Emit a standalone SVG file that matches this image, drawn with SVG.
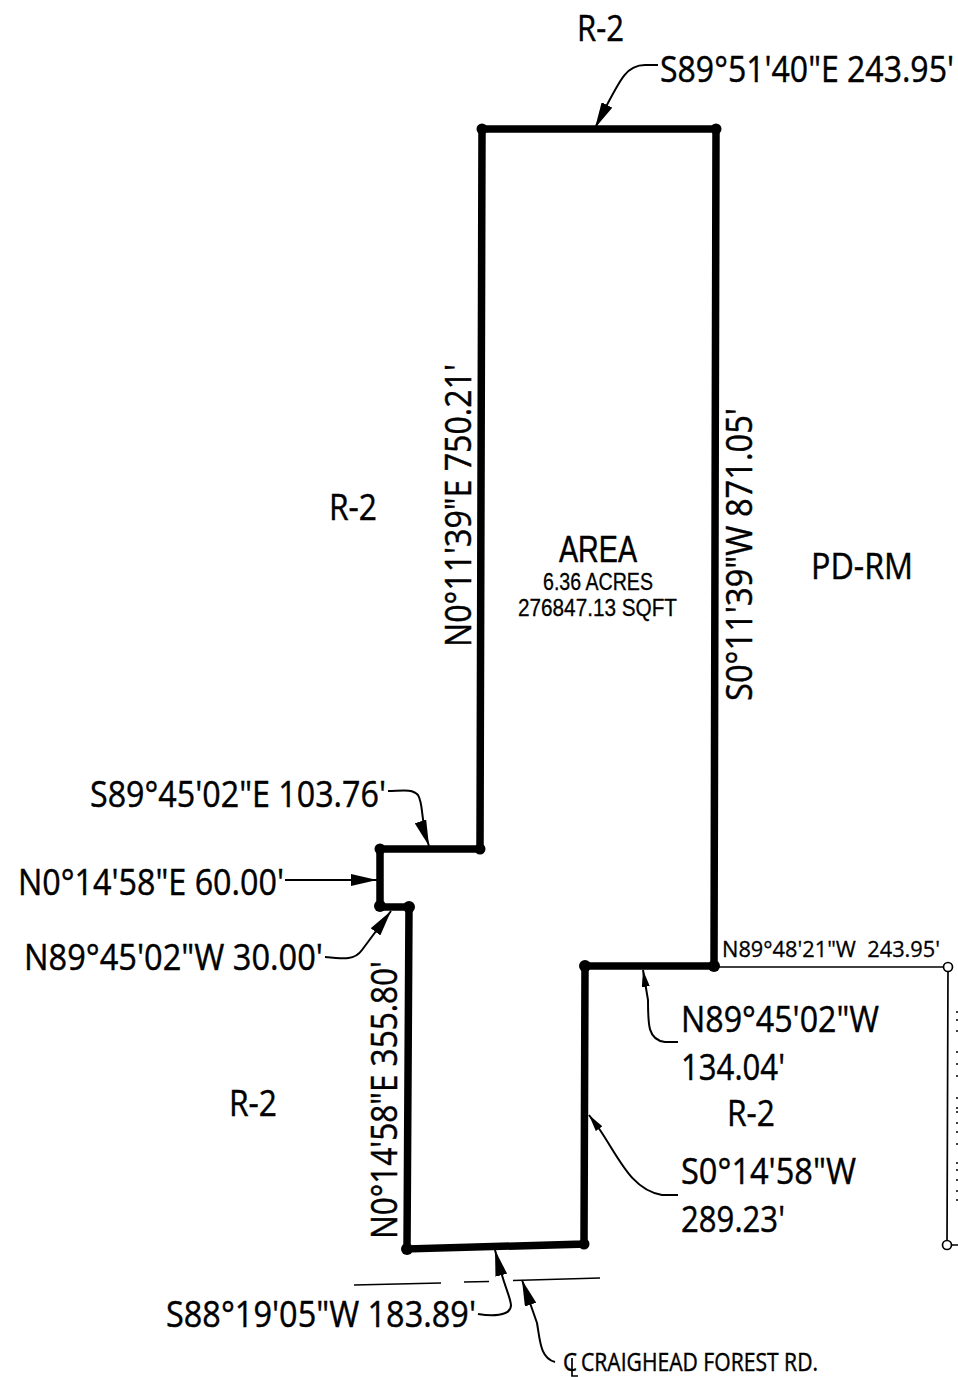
<svg xmlns="http://www.w3.org/2000/svg" width="958" height="1377" viewBox="0 0 958 1377">
<style>
text{font-family:"Open Sans","Noto Sans",sans-serif;fill:#000;stroke:#000;stroke-width:.45}
.b{font-size:37px}.s{font-size:22px;stroke-width:.3}.xs{font-size:23px;stroke-width:.3}
.ar{font-family:"Liberation Sans",Arial,sans-serif}
.bd{fill:none;stroke:#000;stroke-width:7.500}
.ld{fill:none;stroke:#000;stroke-width:2}
.th{fill:none;stroke:#000;stroke-width:1.700}
</style>
<defs>
<marker id="a" markerUnits="userSpaceOnUse" markerWidth="26" markerHeight="12" refX="26" refY="6" orient="auto"><path d="M0 0L26 6L0 12Z"/></marker>
<marker id="sm" markerUnits="userSpaceOnUse" markerWidth="17" markerHeight="8" refX="17" refY="4" orient="auto"><path d="M0 0L17 4L0 8Z"/></marker>
</defs>
<rect width="958" height="1377" fill="#fff"/>
<g id="boundary">
<path class="bd" d="M482 129H716L714 966H585L584 1244L407 1249L409 907H380V849H480Z"/>
<g><circle cx="482" cy="129" r="5.500"/><circle cx="716" cy="129" r="5.500"/><circle cx="714" cy="966" r="6"/><circle cx="585" cy="966" r="6"/><circle cx="584" cy="1244" r="5.500"/><circle cx="407" cy="1249" r="6"/><circle cx="409" cy="907" r="6"/><circle cx="380" cy="906" r="6"/><circle cx="380" cy="849" r="5.500"/><circle cx="480" cy="849" r="5.500"/></g>
</g>
<g id="adjacent">
<path class="th" d="M714 967H948L947 1245H958"/>
<circle cx="948" cy="967" r="4.500" fill="#fff" stroke="#000" stroke-width="1.700"/>
<circle cx="947" cy="1245" r="4.500" fill="#fff" stroke="#000" stroke-width="1.700"/>
<path class="th" d="M354 1285L441 1283M464 1282L489 1281.500M513 1280.500L600 1278"/>
<path d="M956 1012h2M956 1020h2M956 1031h2M956 1052h2M956 1064h2M956 1076h2M956 1098h2M956 1108h2M956 1112h2M956 1123h2M956 1132h2M956 1144h2M956 1163h2M956 1170h2M956 1180h2M956 1191h2M956 1200h2" stroke="#000" stroke-width="1.500"/>
</g>
<g id="connectors">
<path class="ld" marker-end="url(#a)" d="M658 65H645C625 65 620 80 595 128"/>
<path class="ld" marker-end="url(#a)" d="M388 791C400 791 412 788 418 795C424 805 420 820 429 846"/>
<path class="ld" marker-end="url(#a)" d="M285 880H377"/>
<path class="ld" marker-end="url(#a)" d="M325 957C345 959 355 960 362 950L391 911"/>
<path class="ld" marker-end="url(#sm)" d="M678 1042H665C648 1040 648 1025 648 1000L643 970"/>
<path class="ld" marker-end="url(#sm)" d="M678 1195H662C632 1190 620 1160 600 1130L589 1115"/>
<path class="ld" marker-end="url(#a)" d="M478 1314C490 1316 511 1317 511 1305C510 1295 505 1290 495 1250"/>
<path class="ld" stroke-width="2.500" marker-end="url(#a)" d="M555 1362C540 1358 540 1340 537 1323L522 1280"/>
</g>
<g id="labels">
<text class="b" x="577" y="41" textLength="47" lengthAdjust="spacingAndGlyphs">R-2</text>
<text class="b" transform="translate(660 82) scale(.84 1)" textLength="350" lengthAdjust="spacingAndGlyphs">S89°51'40"E 243.95'</text>
<text class="b" x="329" y="520" textLength="48" lengthAdjust="spacingAndGlyphs">R-2</text>
<text class="b" x="811" y="579" textLength="102" lengthAdjust="spacingAndGlyphs">PD-RM</text>
<text class="b ar" x="559" y="562" textLength="78" lengthAdjust="spacingAndGlyphs">AREA</text>
<text class="xs ar" x="543" y="590" textLength="110" lengthAdjust="spacingAndGlyphs">6.36 ACRES</text>
<text class="xs ar" x="518" y="616" textLength="159" lengthAdjust="spacingAndGlyphs">276847.13 SQFT</text>
<text class="b" transform="translate(471 647) rotate(-90)" textLength="283" lengthAdjust="spacingAndGlyphs">N0°11'39"E 750.21'</text>
<text class="b" transform="translate(752 701) rotate(-90)" textLength="293" lengthAdjust="spacingAndGlyphs">S0°11'39"W 871.05'</text>
<text class="b" x="90" y="807" textLength="296" lengthAdjust="spacingAndGlyphs">S89°45'02"E 103.76'</text>
<text class="b" x="18" y="895" textLength="266" lengthAdjust="spacingAndGlyphs">N0°14'58"E 60.00'</text>
<text class="b" x="24" y="970" textLength="299" lengthAdjust="spacingAndGlyphs">N89°45'02"W 30.00'</text>
<text class="b" transform="translate(397 1239) rotate(-90)" textLength="278" lengthAdjust="spacingAndGlyphs">N0°14'58"E 355.80'</text>
<text class="s" x="722" y="957" textLength="218" lengthAdjust="spacingAndGlyphs" xml:space="preserve">N89°48'21"W  243.95'</text>
<text class="b" x="681" y="1032" textLength="198" lengthAdjust="spacingAndGlyphs">N89°45'02"W</text>
<text class="b" x="681" y="1080" textLength="104" lengthAdjust="spacingAndGlyphs">134.04'</text>
<text class="b" x="727" y="1126" textLength="48" lengthAdjust="spacingAndGlyphs">R-2</text>
<text class="b" x="229" y="1116" textLength="48" lengthAdjust="spacingAndGlyphs">R-2</text>
<text class="b" x="681" y="1184" textLength="175" lengthAdjust="spacingAndGlyphs">S0°14'58"W</text>
<text class="b" x="681" y="1232" textLength="104" lengthAdjust="spacingAndGlyphs">289.23'</text>
<text class="b" x="166" y="1327" textLength="310" lengthAdjust="spacingAndGlyphs">S88°19'05"W 183.89'</text>
<text x="581" y="1371" font-size="26" textLength="237" lengthAdjust="spacingAndGlyphs">CRAIGHEAD FOREST RD.</text>
<g id="centerline-symbol"><text x="563" y="1371" font-size="26" textLength="14" lengthAdjust="spacingAndGlyphs">C</text><path class="th" d="M572 1358V1376H578"/></g>
</g>
</svg>
